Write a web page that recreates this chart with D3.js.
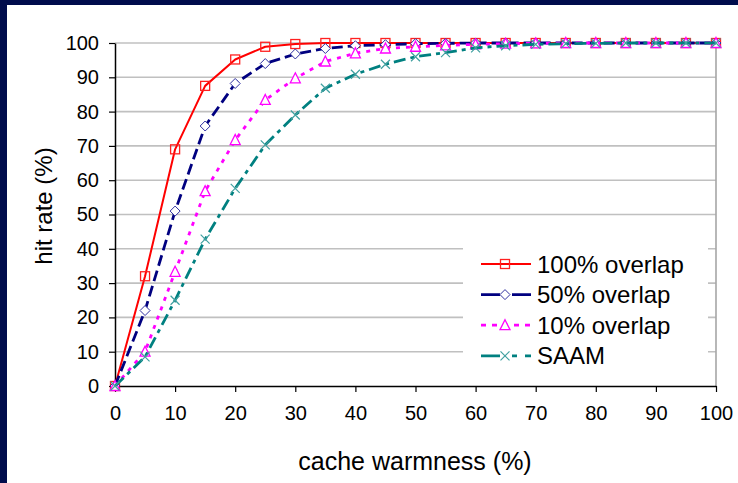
<!DOCTYPE html>
<html><head><meta charset="utf-8">
<script src="https://cdn.jsdelivr.net/npm/d3@7"></script>
<style>
html,body{margin:0;padding:0;background:#000c4c;}
svg{display:block;}
text{font-family:"Liberation Sans",Arial,sans-serif;fill:#000;}
</style></head>
<body>
<svg id="chart" width="738" height="483"></svg>
<script>
const xValues = [0,5,10,15,20,25,30,35,40,45,50,55,60,65,70,75,80,85,90,95,100];
const overlap100 = [0,32,69,87.5,95.2,98.9,99.7,100,100,100,100,100,100,100,100,100,100,100,100,100,100];
const overlap50  = [0,22,51,75.8,88.2,94,96.8,98.4,99.2,99.5,99.8,99.9,100,100,100,100,100,100,100,100,100];
const overlap10  = [0,10,33.3,56.8,71.7,83.4,89.7,94.6,97,98.4,98.9,99.3,99.6,99.8,99.9,100,100,100,100,100,100];
const saam       = [0,8.5,25,42.8,57.6,70.3,79,86.8,90.9,93.8,96,97.2,98.6,99.2,99.6,99.8,99.9,100,100,100,100];
const seriesNames = ["100% overlap","50% overlap","10% overlap","SAAM"];
const xTicks = [0,10,20,30,40,50,60,70,80,90,100];
const yTicks = [0,10,20,30,40,50,60,70,80,90,100];
const xTitle = "cache warmness (%)";
const yTitle = "hit rate (%)";

const seriesData = [overlap100, overlap50, overlap10, saam];
const styles = [
  {color:"#ff0000", width:2, dash:null, marker:"square", mcolor:"#ff2020", mw:1.3},
  {color:"#000080", width:2.8, dash:"11,5", marker:"diamond", mcolor:"#3030a0", mw:1},
  {color:"#ff00ff", width:2.8, dash:"4,6", marker:"triangle", mcolor:"#ff00ff", mw:1.3},
  {color:"#008080", width:2.8, dash:"12,5,4,5", marker:"cross", mcolor:"#40a0a0", mw:1.2}
];

const svg = d3.select("#chart");
svg.append("rect").attr("x",7).attr("y",5).attr("width",731).attr("height",478).attr("fill","#fff");

const x = d3.scaleLinear().domain([0,100]).range([115,716]);
const y = d3.scaleLinear().domain([0,100]).range([386,43]);

svg.append("g").selectAll("line").data(yTicks.filter(d=>d>0)).join("line")
  .attr("x1",x(0)).attr("x2",x(100)).attr("y1",d=>y(d)).attr("y2",d=>y(d))
  .attr("stroke","#c0c0c0").attr("stroke-width",1.6);
svg.append("line").attr("x1",x(100)).attr("x2",x(100)).attr("y1",y(100)).attr("y2",y(0))
  .attr("stroke","#a6a6a6").attr("stroke-width",1.6);

const yAxis = svg.append("g").attr("transform",`translate(${x(0)},0)`)
  .call(d3.axisLeft(y).tickValues(yTicks).tickSize(6).tickPadding(10).tickSizeOuter(0));
const xAxis = svg.append("g").attr("transform",`translate(0,${y(0)})`)
  .call(d3.axisBottom(x).tickValues(xTicks).tickSize(6).tickPadding(14).tickSizeOuter(0));
[xAxis,yAxis].forEach(g=>{
  g.select(".domain").attr("stroke","#000").attr("stroke-width",1.5);
  g.selectAll(".tick line").attr("stroke","#000").attr("stroke-width",1.2);
  g.selectAll("text").attr("font-size",20).attr("font-family","Liberation Sans, Arial, sans-serif").attr("fill","#000");
});

svg.append("text").attr("x",415).attr("y",470).attr("text-anchor","middle")
  .attr("font-size",25).text(xTitle);
svg.append("text").attr("transform","translate(52,206) rotate(-90)").attr("text-anchor","middle")
  .attr("font-size",24).text(yTitle);

function marker(g, type, cx, cy, st){
  const s = 4.5;
  if(type==="square"){
    g.append("rect").attr("x",cx-s).attr("y",cy-s).attr("width",2*s).attr("height",2*s)
      .attr("fill","none").attr("stroke",st.mcolor).attr("stroke-width",st.mw);
  } else if(type==="diamond"){
    g.append("path").attr("d",`M${cx},${cy-s-0.5}L${cx+s+0.5},${cy}L${cx},${cy+s+0.5}L${cx-s-0.5},${cy}Z`)
      .attr("fill","#fff").attr("stroke",st.mcolor).attr("stroke-width",st.mw);
  } else if(type==="triangle"){
    g.append("path").attr("d",`M${cx},${cy-s-1}L${cx+s+0.5},${cy+s}L${cx-s-0.5},${cy+s}Z`)
      .attr("fill","#fff").attr("stroke",st.mcolor).attr("stroke-width",st.mw);
  } else {
    g.append("path").attr("d",`M${cx-s},${cy-s}L${cx+s},${cy+s}M${cx+s},${cy-s}L${cx-s},${cy+s}`)
      .attr("fill","none").attr("stroke",st.mcolor).attr("stroke-width",st.mw);
  }
}

const line = d3.line().x(d=>x(d[0])).y(d=>y(d[1]));
seriesData.forEach((vals,i)=>{
  const st = styles[i];
  const pts = xValues.map((xv,j)=>[xv,vals[j]]);
  const g = svg.append("g");
  g.append("path").attr("d",line(pts)).attr("fill","none").attr("stroke",st.color)
    .attr("stroke-width",st.width).attr("stroke-dasharray",st.dash).attr("stroke-linejoin","round");
  pts.forEach(p=>marker(g, st.marker, x(p[0]), y(p[1]), st));
});

const lg = svg.append("g");
lg.append("rect").attr("x",463).attr("y",244).attr("width",245).attr("height",128).attr("fill","#fff");
seriesNames.forEach((name,i)=>{
  const st = styles[i];
  const ly = 264 + i*30.6;
  lg.append("line").attr("x1",481).attr("x2",531).attr("y1",ly).attr("y2",ly)
    .attr("stroke",st.color).attr("stroke-width",st.width)
    .attr("stroke-dasharray", i===1 ? "19,12,19" : i===2 ? "5,6,5,6,5,6,5,6,5" : i===3 ? "19,12,5,8,6" : null);
  marker(lg, st.marker, 505, ly, st);
  lg.append("text").attr("x",537).attr("y",ly+8.5).attr("font-size",24).text(name);
});
</script>
</body></html>
